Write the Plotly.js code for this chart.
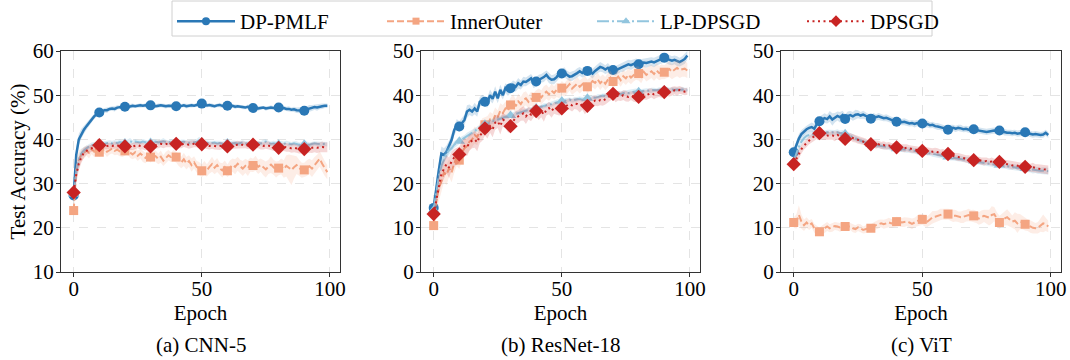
<!DOCTYPE html>
<html><head><meta charset="utf-8">
<script src="https://cdn.plot.ly/plotly-3.0.1.min.js"></script>
<style>html,body{margin:0;padding:0;background:#fff}#chart{width:1070px;height:360px}</style>
</head><body><div id="chart"></div>
<script>
// ---------- data ----------
const methods = ['DP-PMLF', 'InnerOuter', 'LP-DPSGD', 'DPSGD'];
const panelCaptions = ['(a) CNN-5', '(b) ResNet-18', '(c) ViT'];
const yAxisTitle = 'Test Accuracy (%)';
const xAxisTitle = 'Epoch';
const xTickVals = [0, 50, 100];
const yTickVals1 = [10, 20, 30, 40, 50, 60];
const yTickVals23 = [0, 10, 20, 30, 40, 50];
const epochs = Array.from({length: 100}, (_, i) => i);
const markerEvery = 10;

// (a) CNN-5 means
const cnn_pmlf = [27.3,36.5,40.0,41.3,42.2,43.0,43.8,44.5,45.2,45.7,
46.1,46.3,46.6,46.6,46.9,47.0,46.9,47.2,47.3,47.4,
47.4,47.3,47.5,47.6,47.5,47.6,47.7,47.6,47.7,47.6,
47.7,47.6,47.5,47.6,47.7,47.6,47.5,47.6,47.6,47.5,
47.5,47.4,47.6,47.7,47.5,47.6,47.7,47.6,47.8,48.0,
48.1,47.8,47.7,47.8,47.6,47.5,47.7,47.8,47.6,47.5,
47.6,47.5,47.6,47.4,47.5,47.4,47.3,47.2,47.4,47.2,
47.1,47.2,47.0,47.1,47.2,47.0,47.1,47.2,47.1,47.2,
47.2,47.0,47.1,46.9,46.9,46.7,46.8,46.6,46.6,46.5,
46.5,46.8,47.0,47.1,47.3,47.2,47.4,47.5,47.6,47.6];
const cnn_io = [23.9,33.0,35.5,36.5,37.0,37.5,37.0,37.8,37.2,37.6,
37.1,37.5,37.8,37.2,37.6,37.9,37.4,37.7,37.3,37.0,
37.4,37.8,37.0,36.6,37.1,36.3,36.8,36.2,35.8,36.4,
36.0,36.5,36.2,35.6,36.1,35.2,35.9,36.4,36.0,36.3,
36.0,35.4,34.8,35.5,34.6,35.1,34.2,34.8,33.8,33.4,
32.9,33.5,33.0,33.8,34.4,33.6,34.2,33.4,33.0,33.7,
32.9,33.6,34.2,33.8,34.5,33.9,33.4,34.0,33.5,34.3,
34.1,34.6,33.8,34.2,33.6,33.2,33.8,34.3,33.7,33.2,
33.5,33.9,33.3,34.0,33.6,33.1,33.7,34.2,33.6,33.0,
33.1,33.5,33.9,33.4,34.2,34.8,35.6,34.5,33.4,32.6];
const cnn_lp = [27.6,32.5,35.5,36.8,37.5,38.0,38.4,38.7,38.9,39.0,
39.1,39.2,39.0,39.2,39.3,39.1,39.3,39.2,39.4,39.3,
39.2,39.4,39.6,39.3,39.5,39.4,39.3,39.5,39.4,39.2,
39.3,39.4,39.5,39.3,39.4,39.6,39.4,39.3,39.5,39.4,
39.3,39.2,39.4,39.5,39.3,39.2,39.4,39.3,39.5,39.8,
39.4,39.2,39.3,39.1,39.2,39.3,39.1,39.2,39.0,39.1,
39.2,39.0,39.1,39.2,39.0,39.1,39.3,39.1,39.0,39.2,
39.1,39.0,39.2,39.1,39.3,39.5,39.2,39.0,39.1,39.0,
38.9,39.1,39.0,39.2,39.0,38.9,39.1,39.0,38.8,38.9,
38.9,39.0,38.8,38.9,39.1,39.0,38.9,38.9,39.0,38.9];
const cnn_dp = [28.0,32.0,34.5,36.0,37.0,37.5,37.8,38.0,38.3,38.5,
38.7,38.6,38.4,38.5,38.6,38.5,38.7,38.6,38.5,38.4,
38.4,38.5,38.3,38.4,38.6,38.7,38.5,38.4,38.3,38.4,
38.4,38.5,38.7,38.9,39.0,38.9,39.0,38.8,38.9,39.0,
39.0,38.9,38.8,39.0,38.9,38.8,38.9,39.0,38.9,38.8,
38.9,38.7,38.6,38.5,38.6,38.5,38.4,38.5,38.6,38.5,
38.4,38.5,38.6,38.7,38.8,38.7,38.8,38.7,38.6,38.8,
38.8,38.9,38.8,38.6,38.5,38.7,38.6,38.4,38.3,38.2,
38.1,38.2,38.3,38.2,38.1,38.0,38.1,37.9,37.8,37.9,
37.8,37.9,38.0,38.1,38.2,38.1,38.2,38.3,38.2,38.2];
// (a) CNN-5 std
const cnn_pmlf_sd = [1.0,1.6,1.3,1.1,0.9,0.8,0.7,0.7,0.6,0.6,
0.5,0.6,0.5,0.6,0.5,0.5,0.6,0.5,0.4,0.5,
0.5,0.4,0.5,0.5,0.4,0.5,0.5,0.4,0.5,0.4,
0.4,0.5,0.4,0.5,0.4,0.4,0.5,0.4,0.5,0.4,
0.4,0.5,0.4,0.4,0.5,0.4,0.5,0.4,0.5,0.6,
0.5,0.4,0.5,0.4,0.5,0.4,0.4,0.5,0.4,0.5,
0.4,0.5,0.4,0.5,0.4,0.4,0.5,0.4,0.5,0.4,
0.5,0.4,0.5,0.4,0.4,0.5,0.4,0.5,0.4,0.4,
0.5,0.4,0.5,0.5,0.6,0.5,0.6,0.6,0.7,0.6,
0.6,0.7,0.8,0.7,0.6,0.7,0.6,0.6,0.5,0.5];
const cnn_io_sd = [1.2,2.5,2.0,1.5,1.3,1.2,1.3,1.1,1.2,1.0,
1.0,1.1,1.0,1.2,1.0,1.1,1.0,1.2,1.1,1.0,
1.1,1.0,1.2,1.1,1.3,1.2,1.1,1.3,1.2,1.1,
1.2,1.1,1.3,1.2,1.4,1.2,1.3,1.2,1.1,1.3,
1.2,1.4,1.3,1.5,1.4,1.3,1.5,1.4,1.3,1.5,
1.4,1.6,1.4,1.5,1.7,1.5,1.6,1.4,1.6,1.5,
1.4,1.6,1.5,1.7,1.6,1.5,1.7,1.6,1.8,1.6,
1.5,1.7,1.6,1.5,1.7,1.8,1.6,1.9,1.7,1.8,
1.6,1.8,2.0,2.4,3.0,3.4,2.6,2.0,1.8,1.7,
1.6,1.8,1.7,1.9,1.8,1.7,1.8,1.6,1.7,1.6];
const cnn_lp_sd = [1.0,1.5,1.2,1.0,0.8,0.7,0.6,0.6,0.5,0.5,
0.5,0.5,0.6,0.5,0.5,0.6,0.5,0.5,0.6,0.5,
0.5,0.6,0.7,0.5,0.6,0.5,0.5,0.6,0.5,0.5,
0.5,0.6,0.5,0.5,0.6,0.7,0.5,0.5,0.6,0.5,
0.5,0.5,0.6,0.5,0.5,0.6,0.5,0.5,0.6,0.8,
0.6,0.5,0.5,0.6,0.5,0.5,0.6,0.5,0.5,0.6,
0.5,0.5,0.6,0.5,0.5,0.6,0.5,0.5,0.6,0.5,
0.5,0.6,0.5,0.5,0.7,0.6,0.5,0.5,0.6,0.5,
0.5,0.6,0.5,0.5,0.6,0.5,0.5,0.6,0.5,0.5,
0.6,0.5,0.5,0.6,0.5,0.5,0.6,0.5,0.5,0.5];
const cnn_dp_sd = [1.0,1.8,1.5,1.3,1.1,1.0,0.9,0.8,0.8,0.7,
0.7,0.8,0.7,0.8,0.7,0.7,0.8,0.7,0.8,0.7,
0.7,0.8,0.7,0.8,0.8,0.7,0.8,0.7,0.8,0.7,
0.8,0.7,0.8,0.9,0.8,0.9,0.8,0.7,0.8,0.8,
0.8,0.9,0.8,0.7,0.8,0.9,0.8,0.8,0.7,0.8,
0.8,0.7,0.8,0.8,0.7,0.8,0.8,0.9,0.8,0.7,
0.8,0.8,0.7,0.8,0.9,0.8,0.8,0.7,0.8,0.8,
0.7,0.8,0.8,0.9,0.8,0.8,0.9,0.8,0.9,0.8,
0.9,1.0,0.9,1.0,0.9,1.0,1.0,0.9,1.0,1.1,
1.0,1.1,1.0,1.2,1.1,1.2,1.1,1.2,1.1,1.1];

// (b) ResNet-18 means
const res_pmlf = [14.5,19.3,23.0,26.8,26.5,27.2,28.4,29.9,32.1,33.3,
32.9,33.6,34.4,36.3,36.7,36.3,37.0,36.3,38.5,38.9,
38.5,38.4,40.0,39.2,40.8,39.3,41.2,40.0,41.6,41.0,
41.6,42.3,41.9,42.7,42.3,43.1,43.0,43.4,43.8,42.8,
43.1,43.5,43.8,44.1,44.6,43.9,43.5,43.6,44.1,44.9,
44.9,45.2,44.6,44.2,44.3,44.6,45.0,45.4,45.0,45.4,
45.5,45.3,44.9,45.5,46.0,46.4,46.2,45.8,46.2,45.6,
45.7,45.5,45.9,46.2,46.4,46.7,47.0,46.8,47.1,47.3,
47.0,47.2,47.4,47.3,47.5,47.6,47.4,47.7,48.0,48.3,
48.5,48.2,48.0,47.8,48.0,47.7,47.5,47.8,48.2,49.0];
const res_io = [10.5,16.0,19.0,20.5,22.5,22.0,23.5,22.5,24.5,26.0,
25.3,27.0,28.0,28.5,29.5,30.0,31.0,30.5,32.0,33.0,
33.3,33.5,34.5,34.0,35.5,35.0,36.5,36.0,37.0,36.5,
37.8,38.5,37.5,38.6,38.0,38.9,39.3,38.5,39.2,38.8,
39.5,40.0,39.5,40.3,40.8,40.2,41.0,40.5,41.2,40.8,
41.6,41.2,41.8,42.5,41.5,42.0,42.6,41.9,42.4,43.0,
41.9,42.5,43.2,42.8,43.6,42.7,43.3,42.6,43.5,44.0,
43.1,43.6,44.2,43.4,44.3,43.8,44.6,44.0,44.5,45.0,
44.9,44.2,45.3,44.6,45.0,45.4,44.8,45.6,45.0,45.3,
45.2,45.6,45.9,45.3,45.8,46.2,45.7,45.9,46.0,45.6];
const res_lp = [14.0,18.0,21.5,24.0,25.5,26.8,27.5,28.0,28.8,29.2,
29.6,30.0,30.4,30.9,31.2,31.6,31.9,32.3,32.6,33.0,
33.4,33.6,33.9,34.1,34.4,34.6,34.8,35.0,35.1,35.3,
35.4,35.6,35.8,36.0,36.1,36.3,36.5,36.6,36.8,36.9,
37.1,37.2,37.4,37.6,37.7,37.9,38.0,38.2,38.4,38.6,
38.7,38.8,38.9,39.0,38.8,39.0,39.1,39.2,39.0,39.2,
39.3,39.4,39.5,39.4,39.6,39.7,39.9,39.8,40.0,40.1,
40.2,40.3,40.4,40.3,40.5,40.6,40.5,40.7,40.8,40.9,
40.8,40.9,41.0,41.1,41.0,41.1,41.2,41.1,41.2,41.3,
41.2,41.3,41.2,41.3,41.2,41.3,41.2,41.3,41.2,41.2];
const res_dp = [13.1,16.1,19.9,22.2,23.3,24.4,23.6,25.1,25.9,26.2,
26.6,27.8,28.5,28.2,29.3,29.7,30.0,29.3,30.8,31.5,
32.5,31.9,33.0,32.3,33.8,34.1,33.0,34.5,34.1,33.4,
33.0,34.1,34.9,35.2,35.6,35.9,35.2,35.9,35.6,36.4,
36.4,35.9,36.4,35.6,36.7,37.1,36.4,37.1,37.0,36.7,
37.0,37.4,37.8,38.0,37.7,38.1,38.0,37.6,37.9,37.3,
37.6,38.0,38.5,38.8,38.6,38.9,38.7,39.1,39.4,39.8,
40.3,39.6,39.9,39.7,40.0,39.8,39.6,39.9,39.7,39.5,
39.6,39.9,40.1,40.0,40.3,40.5,40.2,40.4,40.6,40.5,
40.7,40.8,40.6,40.9,41.1,40.9,41.2,41.0,40.8,40.9];
// (b) ResNet-18 std
const res_pmlf_sd = [1.5,2.0,1.8,1.6,1.5,1.4,1.3,1.4,1.2,1.3,
1.2,1.3,1.2,1.4,1.2,1.1,1.3,1.2,1.1,1.2,
1.1,1.2,1.3,1.1,1.2,1.1,1.2,1.0,1.1,1.2,
1.1,1.0,1.1,1.2,1.0,1.1,1.0,1.1,1.0,1.2,
1.0,1.1,1.0,1.1,1.0,1.2,1.0,1.1,1.0,1.1,
1.0,1.1,1.0,1.0,1.1,1.0,1.1,1.0,1.0,1.1,
1.0,1.0,1.1,1.0,1.0,1.1,1.0,1.0,1.1,1.0,
1.0,1.1,1.0,1.0,1.1,1.0,1.0,1.1,1.0,1.0,
1.1,1.0,1.0,1.1,1.0,1.0,1.1,1.0,1.0,1.1,
1.0,1.0,1.1,1.0,1.0,1.1,1.0,1.0,1.1,1.0];
const res_io_sd = [1.0,2.2,2.5,2.4,2.2,2.3,2.0,2.2,2.1,2.0,
2.0,1.9,2.0,1.8,1.9,1.8,1.9,1.8,1.7,1.8,
1.7,1.8,1.7,1.8,1.7,1.6,1.7,1.8,1.6,1.7,
1.6,1.7,1.6,1.7,1.6,1.7,1.6,1.5,1.6,1.7,
1.6,1.5,1.6,1.7,1.6,1.5,1.6,1.5,1.6,1.5,
1.6,1.5,1.6,1.5,1.4,1.5,1.6,1.5,1.4,1.5,
1.6,1.5,1.4,1.5,1.6,1.5,1.4,1.5,1.6,1.5,
1.4,1.5,1.6,1.5,1.4,1.5,1.6,1.5,1.4,1.5,
1.6,1.5,1.4,1.5,1.6,1.5,1.6,1.7,1.6,1.7,
1.6,1.7,1.8,1.7,1.8,1.9,1.8,1.7,1.8,1.7];
const res_lp_sd = [1.2,1.5,1.3,1.2,1.0,1.0,0.9,0.8,0.8,0.7,
0.7,0.7,0.6,0.6,0.6,0.6,0.6,0.6,0.6,0.6,
0.6,0.6,0.5,0.6,0.5,0.6,0.5,0.6,0.5,0.6,
0.5,0.6,0.5,0.5,0.6,0.5,0.5,0.6,0.5,0.5,
0.6,0.5,0.5,0.6,0.5,0.5,0.6,0.5,0.5,0.6,
0.5,0.5,0.6,0.5,0.5,0.6,0.5,0.5,0.6,0.5,
0.5,0.6,0.5,0.5,0.6,0.5,0.5,0.6,0.5,0.5,
0.6,0.5,0.5,0.6,0.5,0.5,0.6,0.5,0.5,0.6,
0.5,0.5,0.6,0.5,0.5,0.6,0.5,0.5,0.6,0.5,
0.5,0.6,0.5,0.5,0.6,0.5,0.5,0.6,0.5,0.5];
const res_dp_sd = [1.0,2.0,2.2,2.4,2.2,2.0,2.3,2.1,1.9,2.0,
1.8,1.9,1.7,2.0,1.8,1.7,1.9,2.0,1.6,1.8,
1.6,1.7,1.5,1.8,1.6,1.5,1.9,1.6,1.5,1.8,
1.5,1.6,1.4,1.5,1.4,1.6,1.7,1.4,1.5,1.4,
1.3,1.5,1.4,1.6,1.3,1.4,1.5,1.3,1.4,1.3,
1.3,1.4,1.2,1.3,1.4,1.2,1.3,1.5,1.2,1.6,
1.3,1.2,1.3,1.2,1.1,1.2,1.1,1.2,1.1,1.0,
1.1,1.2,1.1,1.0,1.1,1.2,1.1,1.0,1.2,1.1,
1.0,1.1,1.0,1.1,1.2,1.0,1.1,1.0,1.0,1.1,
1.0,1.0,0.9,1.0,0.9,1.0,0.9,0.9,0.8,0.8];

// (c) ViT means
const vit_pmlf = [27.1,28.8,30.2,31.2,31.8,32.3,32.6,32.8,32.4,33.5,
34.1,34.4,34.8,34.6,35.2,34.5,34.9,35.3,35.0,35.5,
34.6,35.3,35.5,35.2,35.6,35.7,35.4,35.6,35.3,35.1,
34.7,35.2,35.0,35.2,35.0,34.8,34.9,34.6,34.4,34.2,
34.0,34.1,33.9,34.0,33.8,33.6,33.7,33.5,33.7,33.5,
33.6,33.4,33.5,33.2,33.3,33.0,32.9,32.8,32.6,32.4,
32.2,32.5,32.6,32.4,32.6,32.5,32.3,32.4,32.2,32.3,
32.3,32.1,32.0,31.9,31.8,31.7,31.8,31.9,32.0,31.9,
32.0,31.8,31.6,31.5,31.5,31.4,31.5,31.3,31.4,31.5,
31.6,31.4,31.2,31.1,31.2,31.1,31.0,31.1,31.5,31.0];
const vit_io = [11.2,11.4,12.9,11.4,10.6,11.2,10.6,11.0,9.9,9.5,
9.1,9.5,9.9,10.3,9.9,10.1,10.4,10.3,10.1,10.3,
10.3,10.4,10.3,9.9,9.7,10.1,9.9,9.5,9.7,9.9,
9.9,10.3,10.6,10.8,11.0,10.8,11.0,11.2,11.0,11.2,
11.4,11.4,11.2,11.3,11.4,11.2,10.9,11.2,11.5,11.8,
11.9,11.6,11.4,11.9,12.4,12.5,12.7,13.0,13.1,13.1,
13.1,12.9,12.7,12.7,12.5,12.4,12.5,12.7,12.9,12.7,
12.7,12.4,12.1,12.4,12.7,12.5,12.3,12.9,13.1,12.1,
11.2,11.8,12.1,12.4,11.9,11.4,11.6,11.0,11.4,11.2,
10.8,10.6,10.3,10.0,9.9,10.0,10.6,11.0,10.8,10.3];
const vit_lp = [25.0,26.8,28.3,29.5,30.3,30.8,31.0,31.2,31.1,31.3,
31.4,31.5,31.4,31.6,31.5,31.6,31.5,31.6,31.4,31.5,
31.3,31.1,30.8,30.5,30.2,29.9,29.7,29.5,29.3,29.1,
28.9,28.8,28.7,28.6,28.5,28.4,28.3,28.2,28.1,28.0,
27.9,27.9,27.8,27.7,27.6,27.6,27.5,27.4,27.3,27.3,
27.2,27.1,27.0,26.9,26.8,26.6,26.5,26.4,26.2,26.1,
26.0,25.9,25.8,25.8,25.7,25.6,25.5,25.4,25.3,25.2,
25.1,25.0,24.9,24.8,24.7,24.6,24.5,24.4,24.3,24.2,
24.2,24.1,24.0,23.9,23.8,23.7,23.7,23.6,23.5,23.4,
23.4,23.3,23.2,23.1,23.1,23.0,22.9,22.9,22.8,22.8];
const vit_dp = [24.4,25.6,26.8,27.8,28.6,29.2,29.8,30.3,30.7,31.0,
31.4,30.9,30.7,30.9,30.8,30.9,30.7,31.0,30.8,30.5,
30.1,30.4,30.6,30.3,30.1,29.9,29.7,29.6,29.3,29.0,
28.9,29.0,28.8,28.9,28.6,28.7,28.5,28.6,28.4,28.3,
28.2,28.3,28.1,28.0,28.1,27.9,27.8,27.7,27.6,27.5,
27.4,27.5,27.3,27.4,27.2,27.3,27.1,26.9,27.0,26.8,
26.7,26.5,26.3,26.1,26.0,25.9,25.8,25.6,25.5,25.4,
25.3,25.2,25.3,25.1,25.0,25.1,24.9,25.0,24.8,24.9,
24.9,24.7,24.5,24.4,24.3,24.1,24.2,24.0,23.9,23.9,
23.8,23.7,23.6,23.7,23.5,23.4,23.3,23.2,23.2,23.1];
// (c) ViT std
const vit_pmlf_sd = [0.8,1.0,1.0,0.9,0.9,0.8,0.9,1.0,1.1,1.0,
1.0,1.2,1.1,1.0,1.2,1.4,1.1,1.0,1.2,1.0,
1.1,1.0,0.9,1.0,1.1,0.9,0.8,0.9,0.8,0.8,
0.7,0.8,0.7,0.8,0.7,0.7,0.8,0.7,0.7,0.8,
0.7,0.7,0.7,0.8,0.7,0.7,0.7,0.8,0.7,0.7,
0.7,0.7,0.8,0.7,0.7,0.7,0.8,0.7,0.7,0.7,
0.7,0.8,0.7,0.7,0.7,0.8,0.7,0.7,0.7,0.7,
0.7,0.7,0.7,0.7,0.7,0.7,0.7,0.7,0.7,0.7,
0.7,0.7,0.7,0.7,0.7,0.7,0.7,0.7,0.7,0.7,
0.7,0.7,0.7,0.7,0.7,0.7,0.7,0.7,0.7,0.7];
const vit_io_sd = [1.2,1.6,2.2,1.6,1.3,1.2,1.1,1.0,1.0,0.9,
0.9,1.0,1.1,1.0,0.9,1.0,0.9,0.9,1.0,0.9,
0.9,0.9,0.8,0.9,0.9,0.8,0.9,0.8,0.9,0.8,
0.9,0.9,1.0,1.0,0.9,1.0,1.0,1.1,1.0,1.0,
1.1,1.0,1.0,1.1,1.0,1.1,1.2,1.1,1.2,1.3,
1.2,1.3,1.2,1.3,1.4,1.3,1.2,1.3,1.2,1.3,
1.2,1.3,1.4,1.3,1.2,1.3,1.4,1.3,1.4,1.3,
1.4,1.3,1.4,1.5,1.4,1.6,1.8,2.0,1.6,1.4,
1.5,1.4,1.6,1.8,1.6,1.4,1.9,2.2,1.7,1.5,
1.4,1.3,1.4,1.3,1.2,1.3,1.5,2.0,1.5,1.3];
const vit_lp_sd = [0.8,0.9,0.9,0.8,0.8,0.7,0.7,0.7,0.7,0.6,
0.6,0.7,0.6,0.6,0.7,0.6,0.6,0.7,0.6,0.6,
0.6,0.6,0.6,0.7,0.6,0.6,0.6,0.7,0.6,0.6,
0.6,0.7,0.6,0.6,0.6,0.7,0.6,0.6,0.6,0.7,
0.6,0.6,0.7,0.6,0.6,0.6,0.7,0.6,0.6,0.6,
0.7,0.6,0.6,0.6,0.7,0.6,0.6,0.7,0.6,0.6,
0.6,0.7,0.6,0.6,0.7,0.6,0.6,0.6,0.7,0.6,
0.6,0.7,0.6,0.6,0.6,0.7,0.6,0.6,0.7,0.6,
0.6,0.7,0.6,0.6,0.7,0.6,0.7,0.6,0.7,0.7,
0.7,0.7,0.7,0.8,0.7,0.8,0.7,0.8,0.8,0.8];
const vit_dp_sd = [1.0,1.1,1.0,1.0,0.9,0.9,0.9,0.9,0.9,0.9,
0.9,1.0,0.9,1.0,0.9,1.0,1.1,0.9,0.9,1.0,
0.9,0.9,0.8,0.9,0.8,0.9,0.8,0.8,0.9,0.8,
0.8,0.8,0.9,0.8,0.8,0.9,0.8,0.8,0.8,0.9,
0.8,0.8,0.8,0.9,0.8,0.8,0.8,0.9,0.8,0.8,
0.8,0.8,0.9,0.8,0.8,0.8,0.9,0.8,0.8,0.8,
0.9,0.8,0.8,0.8,0.9,0.8,0.8,0.8,0.9,0.8,
0.8,0.9,0.8,0.8,0.9,0.8,0.8,0.9,0.8,0.8,
0.9,0.8,0.9,0.8,0.9,0.9,0.8,0.9,0.9,0.9,
0.9,1.0,0.9,1.0,0.9,1.0,1.0,1.0,1.0,1.0];

// ---------- styles ----------
const FONT = '"Liberation Serif", "Times New Roman", Times, serif';
const styles = [
  {color: '#2a78b6', band: 'rgba(42,120,182,0.2)',  width: 2.5, dash: 'solid',            symbol: 'circle',      size: 10},
  {color: '#f4a582', band: 'rgba(244,165,130,0.2)', width: 2,   dash: '7px,3px',          symbol: 'square',      size: 9},
  {color: '#92c5de', band: 'rgba(146,197,222,0.3)', width: 2,   dash: '12px,3px,2px,3px', symbol: 'triangle-up', size: 10},
  {color: '#c82423', band: 'rgba(200,36,35,0.18)',  width: 2,   dash: '2px,3.5px',        symbol: 'diamond',     size: 11}
];

const panels = [
  {means: [cnn_pmlf, cnn_io, cnn_lp, cnn_dp], sds: [cnn_pmlf_sd, cnn_io_sd, cnn_lp_sd, cnn_dp_sd]},
  {means: [res_pmlf, res_io, res_lp, res_dp], sds: [res_pmlf_sd, res_io_sd, res_lp_sd, res_dp_sd]},
  {means: [vit_pmlf, vit_io, vit_lp, vit_dp], sds: [vit_pmlf_sd, vit_io_sd, vit_lp_sd, vit_dp_sd]}
];

const traces = [];
// legend entries (no data points)
methods.forEach((m, k) => {
  const st = styles[k];
  traces.push({x: [null], y: [null], name: m, mode: 'lines+markers', xaxis: 'x', yaxis: 'y',
    line: {color: st.color, width: st.width, dash: st.dash},
    marker: {symbol: st.symbol, size: st.size - 2, color: st.color}, hoverinfo: 'skip'});
});

panels.forEach((p, pi) => {
  const xa = pi === 0 ? 'x' : 'x' + (pi + 1);
  const ya = pi === 0 ? 'y' : 'y' + (pi + 1);
  p.means.forEach((ys, k) => {
    const st = styles[k], sd = p.sds[k];
    const up = ys.map((v, i) => v + sd[i]);
    const lo = ys.map((v, i) => v - sd[i]);
    traces.push({x: epochs.concat(epochs.slice().reverse()), y: up.concat(lo.slice().reverse()),
      fill: 'toself', fillcolor: st.band, line: {width: 0, color: 'rgba(0,0,0,0)'}, mode: 'lines',
      hoverinfo: 'skip', showlegend: false, xaxis: xa, yaxis: ya});
    traces.push({x: epochs, y: ys, mode: 'lines', line: {color: st.color, width: st.width, dash: st.dash},
      showlegend: false, xaxis: xa, yaxis: ya});
    const mx = epochs.filter(e => e % markerEvery === 0);
    traces.push({x: mx, y: mx.map(e => ys[e]), mode: 'markers',
      marker: {symbol: st.symbol, size: st.size, color: st.color},
      showlegend: false, xaxis: xa, yaxis: ya});
  });
});

const W = 1070, H = 360;
const xDomains = [[61 / W, 340 / W], [421 / W, 700 / W], [781 / W, 1061 / W]];
const yDomain = [1 - 272 / H, 1 - 51 / H];
const tickFont = {family: FONT, size: 21, color: '#000'};

function xAxis(i) {
  return {domain: xDomains[i], anchor: i === 0 ? 'y' : 'y' + (i + 1), range: [-4.95, 103.95],
    tickvals: xTickVals, ticks: 'outside', ticklen: 4, tickwidth: 1, tickcolor: '#333',
    ticklabelstandoff: -6,
    showline: true, mirror: true, linecolor: '#333', linewidth: 1,
    showgrid: true, gridcolor: '#e4e4e4', griddash: 'dash', gridwidth: 1, zeroline: false,
    tickfont: tickFont, title: {text: xAxisTitle, font: tickFont, standoff: 1}, fixedrange: true};
}
function yAxis(i) {
  const a = {domain: yDomain, anchor: i === 0 ? 'x' : 'x' + (i + 1),
    range: i === 0 ? [10, 60] : [0, 50], tickvals: i === 0 ? yTickVals1 : yTickVals23,
    ticks: 'outside', ticklen: 4, tickwidth: 1, tickcolor: '#333', ticklabelstandoff: -2,
    showline: true, mirror: true, linecolor: '#333', linewidth: 1,
    showgrid: true, gridcolor: '#e4e4e4', griddash: 'dash', gridwidth: 1, zeroline: false,
    tickfont: tickFont, fixedrange: true};
  if (i === 0) a.title = {text: yAxisTitle, font: tickFont, standoff: 1};
  return a;
}

const layout = {
  width: W, height: H, margin: {l: 0, r: 0, t: 0, b: 0},
  paper_bgcolor: '#fff', plot_bgcolor: '#fff', font: {family: FONT, size: 21, color: '#000'},
  showlegend: true,
  legend: {orientation: 'h', x: 172 / W, xanchor: 'left', y: 1 - 1 / H, yanchor: 'top',
    bgcolor: 'rgba(0,0,0,0)', borderwidth: 0, font: {family: FONT, size: 21, color: '#000'},
    entrywidth: 137, itemwidth: 58, traceorder: 'normal'},
  // legend frame
  shapes: [{type: 'rect', xref: 'paper', yref: 'paper', x0: 172 / W, x1: 932 / W, y0: 1 - 36 / H, y1: 1 - 1 / H,
    line: {color: '#d0d0d0', width: 1}, fillcolor: 'rgba(0,0,0,0)', layer: 'below'}],
  xaxis: xAxis(0), xaxis2: xAxis(1), xaxis3: xAxis(2),
  yaxis: yAxis(0), yaxis2: yAxis(1), yaxis3: yAxis(2),
  annotations: panelCaptions.map((c, i) => ({text: c, xref: 'paper', yref: 'paper',
    x: (xDomains[i][0] + xDomains[i][1]) / 2, y: 1 - 345 / H, xanchor: 'center', yanchor: 'middle',
    showarrow: false, font: {family: FONT, size: 21, color: '#000'}}))
};

Plotly.newPlot('chart', traces, layout, {staticPlot: true, displayModeBar: false});
</script>
</body></html>
